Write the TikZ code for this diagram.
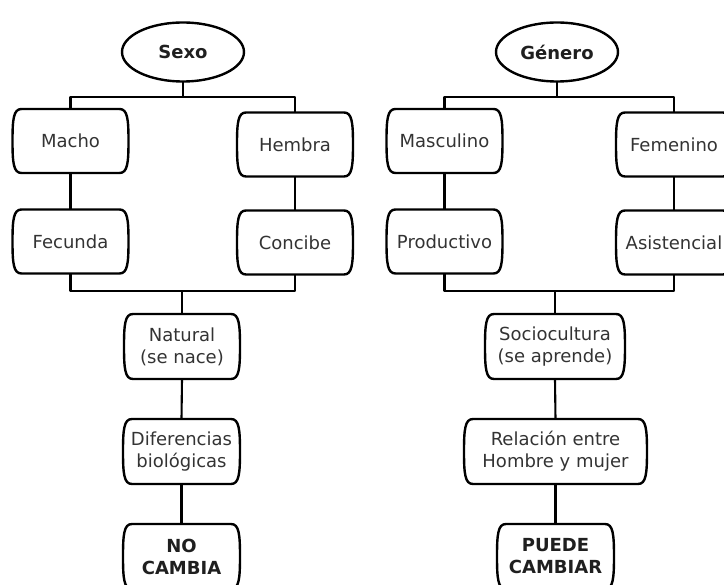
\documentclass[tikz,border=0pt]{standalone}
\usepackage{fontspec}
\setmainfont{DejaVu Sans}
\usetikzlibrary{shapes.geometric}
\newcommand\shapebox[1]{%
  \draw[boxln] ([xshift=-9pt]#1.north east)
    .. controls ([xshift=-1pt]#1.north east) and ([yshift=-10pt]#1.north east) .. (#1.east)
    .. controls ([yshift=10pt]#1.south east) and ([xshift=-1pt]#1.south east) .. ([xshift=-9pt]#1.south east)
    -- ([xshift=9pt]#1.south west)
    .. controls ([xshift=1pt]#1.south west) and ([yshift=10pt]#1.south west) .. (#1.west)
    .. controls ([yshift=-10pt]#1.north west) and ([xshift=1pt]#1.north west) .. ([xshift=9pt]#1.north west)
    -- cycle;}
\tikzset{
  ln/.style={line width=2.1pt, black, line join=round},
  boxln/.style={line width=2.4pt, black, line join=round},
  bx/.style={draw=none, inner sep=0pt, outer sep=0pt, align=center, text=black!80,
    font=\fontsize{18}{22}\selectfont, minimum width=116pt, minimum height=64pt},
  bold/.style={font=\fontsize{18}{22}\selectfont\bfseries, text=black!88},
  topel/.style={ellipse, draw, line width=2.4pt, inner sep=0pt, outer sep=0pt,
    minimum width=122pt, minimum height=59pt, font=\fontsize{18}{22}\selectfont\bfseries, text=black!88},
}
\begin{document}
\begin{tikzpicture}[x=1pt,y=-1pt]
\useasboundingbox (0,0) rectangle (724,585);
\clip (0,0) rectangle (724,585);
% left column
\node[topel] (sexo) at (183,52) {Sexo};
\node[bx] (macho) at (70.5,141) {Macho};
\node[bx] (hembra) at (295,144.5) {Hembra};
\node[bx] (fecunda) at (70.5,241.5) {Fecunda};
\node[bx] (concibe) at (295,242.5) {Concibe};
\node[bx, minimum height=65pt] (natural) at (182,346.5) {Natural\\(se nace)};
\node[bx, minimum width=117pt, minimum height=65pt] (dif) at (181.5,451.5) {Diferencias\\biológicas};
\node[bx, bold, minimum width=117pt, minimum height=65pt] (nocambia) at (181.5,556.5) {NO\\CAMBIA};
\coordinate (barTL) at (0,97);
\coordinate (barBL) at (0,291);
% right column
\node[topel] (genero) at (557,52) {Género};
\node[bx] (masc) at (444.5,141) {Masculino};
\node[bx] (fem) at (674,144.5) {Femenino};
\node[bx] (prod) at (444.5,241.5) {Productivo};
\node[bx] (asis) at (674,242.5) {Asistencial};
\node[bx, minimum width=140pt, minimum height=65pt] (socio) at (555,346.5) {Sociocultura\\(se aprende)};
\node[bx, minimum width=183pt, minimum height=65pt] (rel) at (555.5,451.5) {Relación entre\\Hombre y mujer};
\node[bx, bold, minimum width=117pt, minimum height=65pt] (puede) at (555.5,556.5) {PUEDE\\CAMBIAR};
\coordinate (barTR) at (0,97);
\coordinate (barBR) at (0,291);
% boxes
\foreach \n in {macho,hembra,fecunda,concibe,natural,dif,nocambia,masc,fem,prod,asis,socio,rel,puede}
  {\shapebox{\n}}
% connectors left
\draw[ln] (sexo.south) -- (sexo.south |- barTL);
\draw[ln] (macho.north) -- (macho.north |- barTL) -- (hembra.north |- barTL) -- (hembra.north);
\draw[ln] (macho.south) -- (fecunda.north);
\draw[ln] (hembra.south) -- (concibe.north);
\draw[ln] (fecunda.south) -- (fecunda.south |- barBL) -- (concibe.south |- barBL) -- (concibe.south);
\draw[ln] (natural.north |- barBL) -- (natural.north);
\draw[ln] (natural.south) -- (dif.north);
\draw[ln] (dif.south) -- (nocambia.north);
% connectors right
\draw[ln] (genero.south) -- (genero.south |- barTR);
\draw[ln] (masc.north) -- (masc.north |- barTR) -- (fem.north |- barTR) -- (fem.north);
\draw[ln] (masc.south) -- (prod.north);
\draw[ln] (fem.south) -- (asis.north);
\draw[ln] (prod.south) -- (prod.south |- barBR) -- (asis.south |- barBR) -- (asis.south);
\draw[ln] (socio.north |- barBR) -- (socio.north);
\draw[ln] (socio.south) -- (rel.north);
\draw[ln] (rel.south) -- (puede.north);
\end{tikzpicture}
\end{document}
